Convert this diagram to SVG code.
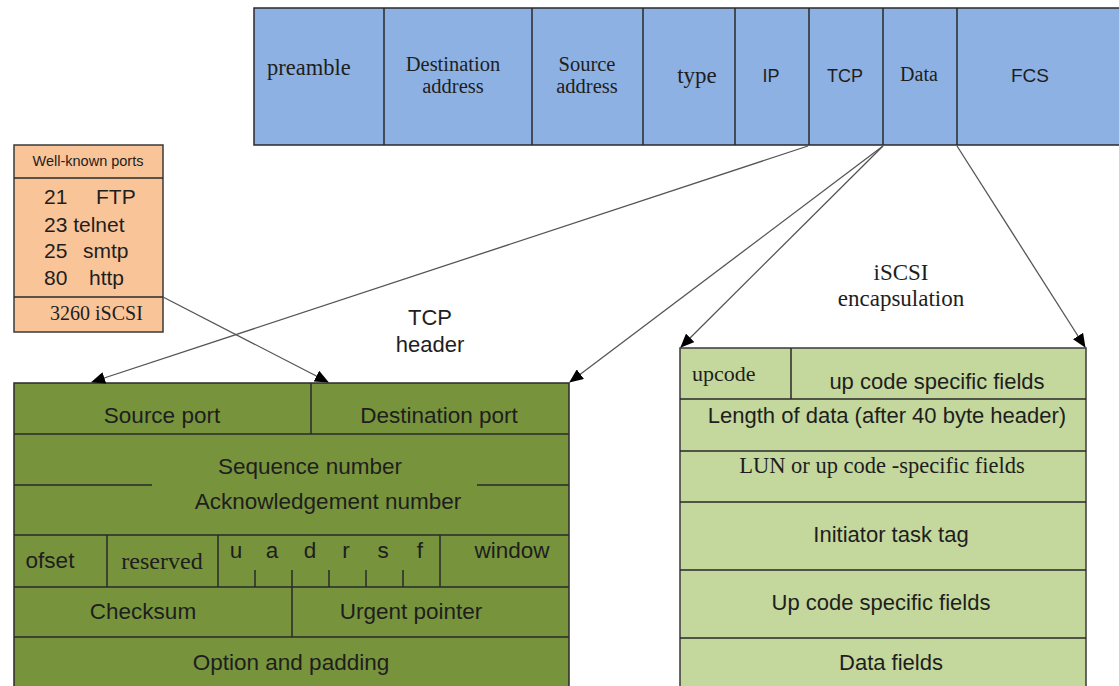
<svg xmlns="http://www.w3.org/2000/svg" width="1119" height="686" viewBox="0 0 1119 686">
<defs>
<marker id="ah" markerWidth="14" markerHeight="12" refX="13" refY="6" orient="auto" markerUnits="userSpaceOnUse">
<path d="M0,0 L14,6 L0,12 Z" fill="#000"/>
</marker>
<style>
.ln{stroke:#2a2a2a;stroke-width:1.5;fill:none}
.blue{fill:#8DB1E2;stroke:#2a2a2a;stroke-width:1.5}
.peach{fill:#FAC499;stroke:#3a3a3a;stroke-width:1.5}
.olive{fill:#77933C;stroke:#2a2a2a;stroke-width:1.5}
.lgreen{fill:#C4D79C;stroke:#3a3a3a;stroke-width:1.5}
.s{font-family:"Liberation Sans",Arial,sans-serif;fill:#1e1e1e}
.r{font-family:"Liberation Serif","Times New Roman",serif;fill:#1e1e1e}
.m{text-anchor:middle}
.g{font-size:22.5px}
.q{font-size:22px}
.conn{stroke:#555;stroke-width:1.3;fill:none;marker-end:url(#ah)}
</style>
</defs>
<rect width="1119" height="686" fill="#fff"/>

<g id="ethernet-frame">
<rect class="blue" x="254" y="8" width="870" height="137"/>
<path class="ln" d="M384,8V145M532,8V145M643,8V145M735,8V145M809,8V145M883,8V145M957,8V145"/>
<text class="r" x="267" y="75" font-size="22.5">preamble</text>
<text class="r m" x="453" y="71" font-size="20.5">Destination</text>
<text class="r m" x="453" y="93" font-size="20.5">address</text>
<text class="r m" x="587" y="71" font-size="20.5">Source</text>
<text class="r m" x="587" y="93" font-size="20.5">address</text>
<text class="r m" x="697" y="83" font-size="23">type</text>
<text class="s m" x="771" y="82" font-size="18">IP</text>
<text class="s m" x="845" y="82" font-size="18">TCP</text>
<text class="r m" x="919" y="81" font-size="20">Data</text>
<text class="s m" x="1030" y="82" font-size="19">FCS</text>
</g>

<g id="well-known-ports">
<rect class="peach" x="14" y="145" width="149" height="187"/>
<path class="ln" d="M14,178H163M14,297H163"/>
<text class="s m" x="88" y="166" font-size="14.5">Well-known ports</text>
<text class="s" x="44" y="204" font-size="21">21</text>
<text class="s" x="96" y="204" font-size="21">FTP</text>
<text class="s" x="44" y="232" font-size="21">23 telnet</text>
<text class="s" x="44" y="258" font-size="21">25</text>
<text class="s" x="83" y="258" font-size="21">smtp</text>
<text class="s" x="44" y="285" font-size="21">80</text>
<text class="s" x="89" y="285" font-size="21">http</text>
<text class="r" x="50" y="320" font-size="20">3260 iSCSI</text>
</g>

<g id="tcp-header">
<rect class="olive" x="14" y="383" width="555" height="310"/>
<path class="ln" d="M311,383V434M14,434H569M14,485H152M477,485H569M14,535H569M107,535V587M218,535V587M440,535V587M255,570V587M292,570V637M329,570V587M366,570V587M403,570V587M14,587H569M14,637H569"/>
<text class="s m g" x="162" y="423">Source port</text>
<text class="s m g" x="439" y="423">Destination port</text>
<text class="s m g" x="310" y="474">Sequence number</text>
<text class="s m g" x="328" y="509">Acknowledgement number</text>
<text class="s m g" x="50" y="568">ofset</text>
<text class="r m" x="162" y="569" font-size="24">reserved</text>
<text class="s m g" x="236" y="558">u</text>
<text class="s m g" x="272" y="558">a</text>
<text class="s m g" x="310" y="558">d</text>
<text class="s m g" x="346" y="558">r</text>
<text class="s m g" x="383" y="558">s</text>
<text class="s m g" x="420" y="558">f</text>
<text class="s m g" x="512" y="558">window</text>
<text class="s m g" x="143" y="619">Checksum</text>
<text class="s m g" x="411" y="619">Urgent pointer</text>
<text class="s m g" x="291" y="670">Option and padding</text>
</g>

<g id="iscsi-pdu">
<rect class="lgreen" x="680" y="348" width="406" height="345"/>
<path class="ln" d="M791,348V399M680,399H1086M680,451H1086M680,502H1086M680,570H1086M680,638H1086"/>
<text class="r" x="692" y="381" font-size="22">upcode</text>
<text class="s m q" x="937" y="389">up code specific fields</text>
<text class="s m q" x="887" y="423">Length of data (after 40 byte header)</text>
<text class="r m" x="882" y="473" font-size="22.5">LUN or up code -specific fields</text>
<text class="s m q" x="891" y="542">Initiator task tag</text>
<text class="s m q" x="881" y="610">Up code specific fields</text>
<text class="s m q" x="891" y="670">Data fields</text>
</g>

<g id="labels">
<text class="s m" x="430" y="325" font-size="22">TCP</text>
<text class="s m" x="430" y="352" font-size="22">header</text>
<text class="r m" x="901" y="280" font-size="23">iSCSI</text>
<text class="r m" x="901" y="306" font-size="23">encapsulation</text>
</g>

<g id="connectors">
<path class="conn" d="M808,146L92,382"/>
<path class="conn" d="M163,297L328,382"/>
<path class="conn" d="M883,146L570,382"/>
<path class="conn" d="M883,146L681,347"/>
<path class="conn" d="M957,146L1085,347"/>
</g>
</svg>
